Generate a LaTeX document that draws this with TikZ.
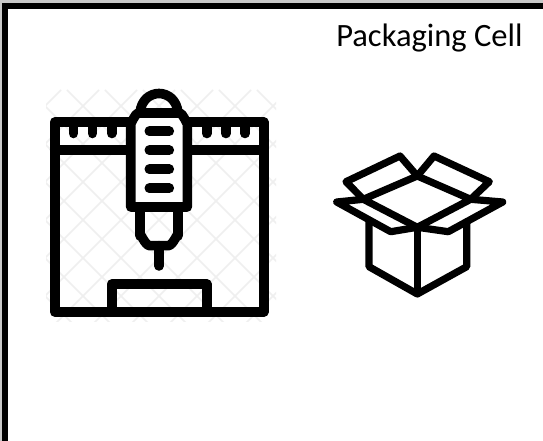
\documentclass[tikz,border=0pt]{standalone}
\usepackage{fontspec}
\setmainfont{Carlito}
\usepackage{xcolor}
\usetikzlibrary{calc, positioning}
\definecolor{edgegrey}{RGB}{200,200,200}
\definecolor{hatchgrey}{RGB}{239,239,239}
\tikzset{
    icon/.style={line width=7.2pt, black, line join=round, line cap=round},
    thinicon/.style={line width=5.4pt, black, line join=round, line cap=round},
    hatch/.style={line width=1.3pt, hatchgrey}
}

\begin{document}
\begin{tikzpicture}[x=0.75pt, y=-0.75pt, font=\fontsize{24.4}{29}\selectfont]
    \useasboundingbox (0,0) rectangle (543,441);
    \fill[white] (0,0) rectangle (543,441);

    % Frame
    \fill[edgegrey] (0,0) rectangle (543,3);
    \fill[edgegrey] (0,0) rectangle (2,441);
    \fill[black] (2,3) rectangle (543,9);
    \fill[black] (2,3) rectangle (8,441);

    % Title
    \node[anchor=base west, inner sep=0pt] (title) at (336,47) {Packaging Cell};

    % Hatching behind the printer
    \begin{scope}
        \clip (46,90) rectangle (276,322);
        \foreach \i in {-8,...,8} {
            \draw[hatch] ({159+\i*38-130},90) -- ({159+\i*38+110},330);
            \draw[hatch] ({159+\i*38+130},90) -- ({159+\i*38-110},330);
        }
    \end{scope}

    % Printer body
    \draw[icon] (130.7,122) -- (54.7,122) -- (54.7,312) -- (263.7,312) -- (263.7,122) -- (187.3,122);
    \draw[icon] (54.7,150) -- (130.7,150);
    \draw[icon] (187.3,150) -- (263.7,150);

    % Bed
    \draw[icon] (111.7,312) -- (111.7,284) -- (206.7,284) -- (206.7,312);

    % Ticks
    \foreach \x in {73.3,92.3,111.7,206.7,225.7,245}
        \draw[icon] (\x,124) -- (\x,133.5);

    % Print head
    \draw[icon, fill=white] (130.7,207) -- (130.7,122) to[out=-90, in=180] (139,113) -- (179,113)
        to[out=0, in=-90] (187.3,122) -- (187.3,207) -- cycle;
    \draw[icon] (140,113) .. controls (142,87) and (176,87) .. (178,113);

    % Slots
    \foreach \y in {131.3,150.3,169.3,188.3}
        \draw[icon] (149.3,\y) -- (169.3,\y);

    % Nozzle
    \draw[icon] (140,207) -- (140,236) to[out=90, in=180] (150,245.7) -- (168,245.7)
        to[out=0, in=90] (178,236) -- (178,207);
    \draw[icon] (159,245.7) -- (159,266);

    % Box body
    \draw[thinicon] (369,221.7) -- (369,266.7) -- (417.3,294) -- (466.7,266.7) -- (466.7,221.7);
    \draw[thinicon] (417.3,227.3) -- (417.3,294);

    % Box opening
    \draw[thinicon] (417.3,176) -- (363.3,199.3) -- (417.3,227.3) -- (470.7,199.3) -- cycle;

    % Box flaps
    \draw[thinicon] (417.3,176) -- (400,156) -- (346,181.7) -- (363.3,199.3);
    \draw[thinicon] (417.3,176) -- (434,156) -- (489.3,181.7) -- (470.7,199.3);
    \draw[thinicon] (363.3,199.3) -- (336.7,202) -- (390.7,231.7) -- (417.3,227.3);
    \draw[thinicon] (470.7,199.3) -- (502.7,202) -- (448.3,231.7) -- (417.3,227.3);
\end{tikzpicture}
\end{document}
